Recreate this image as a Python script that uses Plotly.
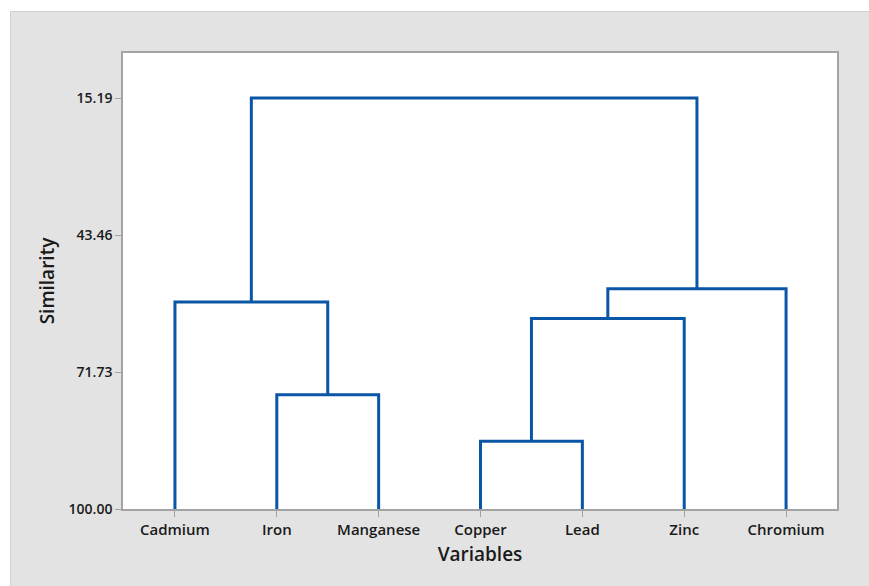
import plotly.graph_objects as go

# ---- data ----
leaves = ["Cadmium", "Iron", "Manganese", "Copper", "Lead", "Zinc", "Chromium"]
# merges: cluster ids 0..6 are leaves; each merge creates id 7, 8, ...
# 7 = Iron+Manganese, 8 = Copper+Lead, 9 = Cadmium+7, 10 = 8+Zinc, 11 = 10+Chromium, 12 = 9+11
merge_a = [1, 3, 0, 8, 10, 9]
merge_b = [2, 4, 7, 5, 6, 11]
merge_sim = [76.40, 86.01, 57.27, 60.71, 54.53, 15.19]
y_ticks = [15.19, 43.46, 71.73, 100.00]
y_tick_labels = ["15.19", "43.46", "71.73", "100.00"]

pos = {i: (i + 1, 100.0) for i in range(len(leaves))}
xs, ys = [], []
for k, (a, b, s) in enumerate(zip(merge_a, merge_b, merge_sim)):
    xa, ya = pos[a]
    xb, yb = pos[b]
    xs += [xa, xa, xb, xb, None]
    ys += [ya, s, s, yb, None]
    pos[len(leaves) + k] = ((xa + xb) / 2, s)

LINE = "#0a56a6"
AX = "#a3a3a3"
FONT = "Open Sans"

fig = go.Figure()
fig.add_trace(go.Scatter(x=xs, y=ys, mode="lines",
                         line=dict(color=LINE, width=3), hoverinfo="skip",
                         showlegend=False))

# pixel geometry (body margin removed via post_script)
W, H = 869, 586
ml, mr, mt, mb = 123, 32, 53, 77
pw, ph = W - ml - mr, H - mt - mb
def px(x):
    return (x - ml) / pw
def py(y):
    return (H - mb - y) / ph

fig.add_shape(type="rect", xref="paper", yref="paper",
              x0=px(10.5), x1=px(900), y0=py(620), y1=py(11.5),
              fillcolor="#e3e3e3", line=dict(color="#cfcfcf", width=1),
              layer="below")
fig.add_shape(type="rect", xref="paper", yref="paper",
              x0=0, x1=1, y0=0, y1=1,
              fillcolor="white", line=dict(width=0),
              layer="below")

fig.update_layout(
    width=W, height=H,
    margin=dict(l=ml, r=mr, t=mt, b=mb),
    paper_bgcolor="white", plot_bgcolor="white",
    font=dict(family=FONT, color="#1a1a1a"),
    showlegend=False,
)
fig.update_xaxes(
    range=[0.49, 7.5],
    tickmode="array", tickvals=list(range(1, len(leaves) + 1)), ticktext=leaves,
    tickfont=dict(size=15, family=FONT, weight=600),
    ticks="outside", ticklen=6, tickcolor=AX, tickwidth=1,
    showline=True, linecolor=AX, linewidth=1.5, mirror=True,
    showgrid=False, zeroline=False,
    title=dict(text="Variables", font=dict(size=19, family=FONT, weight=600), standoff=10),
)
fig.update_yaxes(
    range=[100.0, 5.9],
    tickmode="array", tickvals=y_ticks, ticktext=y_tick_labels,
    tickfont=dict(size=14, family=FONT, weight=600),
    ticks="outside", ticklen=6, tickcolor=AX, tickwidth=1,
    showline=True, linecolor=AX, linewidth=1.5, mirror=True,
    showgrid=False, zeroline=False,
    title=dict(text="Similarity", font=dict(size=19, family=FONT, weight=600), standoff=9),
)

fig.write_html("out.html",
               config={"displayModeBar": False},
               post_script="document.body.style.margin='0';document.body.style.overflow='hidden';")
